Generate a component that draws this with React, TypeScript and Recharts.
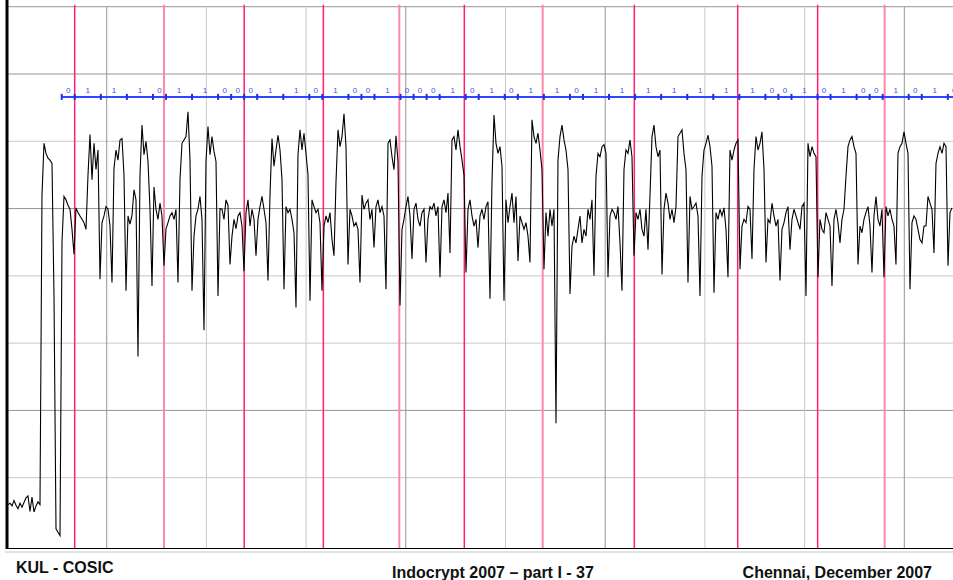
import React from "react";
import { ComposedChart, Line, Scatter, XAxis, YAxis, ReferenceLine } from "recharts";

// power trace (one sample every ~2 time units)
const traceValues: number[] = [
  6.0, 6.2, 5.8, 6.6, 5.9, 5.4, 6.2, 5.6, 6.3, 7.0, 7.3, 5.0, 7.1, 4.9, 5.8, 6.4, 6.0, 52, 59.7, 58.2,
  57.5, 57.2, 56.7, 37, 2.4, 1.9, 1.4, 45, 51.8, 51.3, 50.5, 49.9, 46.9, 43.2, 50.1, 49.4, 48.9, 48.4, 47.9, 46.9,
  55, 61, 54.3, 59.7, 55.8, 58.7, 39.5, 47.9, 48.9, 50.3, 49.9, 47.4, 39.0, 56, 58.7, 57.2, 60.2, 60.4, 55, 37.8,
  48.9, 47.7, 49, 52.8, 51.3, 28, 55, 62.4, 58, 60, 57, 49.9, 38.5, 53.2, 49.9, 48.4, 50.8, 48.9, 41.5, 47,
  47.9, 48.9, 49.4, 48.4, 49.9, 39.0, 54.3, 59.7, 60.2, 60.7, 64.4, 57.2, 37.8, 45.9, 48.9, 49.9, 51.8, 48.4, 31.9, 57,
  62.2, 58, 60.7, 58.5, 57, 37, 50, 49.9, 48.4, 51.3, 50.5, 41.7, 45.9, 48.4, 47, 48.9, 49.4, 47.4, 40.7, 49.4,
  51.3, 47.4, 49.9, 48.4, 43.0, 48.4, 50.3, 51.8, 49.9, 47.9, 39.3, 52, 60.4, 56.3, 58.7, 60.9, 58.7, 54.3, 38, 50.3,
  49.4, 49.9, 48.4, 46.4, 35.3, 58, 61.7, 58.7, 61.2, 58.2, 55, 36.3, 51.3, 50.3, 49.4, 49.9, 47.9, 37.8, 47.4, 48.9,
  47.9, 49.4, 45.4, 43.0, 54, 61.7, 59.2, 60.7, 64.1, 59.2, 41.7, 49.9, 48.9, 47.4, 47.9, 46.9, 39.0, 52, 49.9, 50.8,
  51.3, 48.4, 49.9, 44.2, 50.3, 51.3, 49.4, 50.3, 48.9, 38.0, 59.7, 60.2, 57.7, 55.8, 60.8, 57, 35.6, 46.9, 48.4, 50.3,
  51.8, 48.9, 42.5, 49.9, 50.8, 48.4, 47.4, 49.4, 49.9, 42.0, 48.4, 50.3, 49.9, 50.8, 48.9, 50.3, 39.8, 50.3, 51.3, 49.4,
  52.3, 43.4, 60.2, 60.7, 58.7, 61.7, 59.2, 57.2, 55, 40.5, 49.9, 51.3, 48.9, 47.4, 48.4, 44.2, 48.9, 49.9, 48.4, 50.3,
  51, 36.6, 54, 63.9, 59.7, 58.2, 59.2, 56.3, 36.3, 51.3, 47.9, 50.3, 52.3, 47.9, 51.8, 42.2, 48.9, 47.9, 46.9, 47.9,
  45.9, 42, 63.2, 60.7, 59.7, 61.2, 58.7, 55.8, 41.0, 49.4, 45.9, 49.9, 47.4, 49.9, 18.1, 57.2, 60.7, 62.4, 60.2, 58.7,
  55.8, 37.3, 44.4, 45.9, 44.9, 46.9, 48.9, 44.9, 46.9, 45.9, 49.9, 48.4, 51.3, 40.0, 54.8, 58.2, 57.7, 59.2, 59.5, 58.2,
  39.8, 48.9, 49.9, 49.4, 48.4, 50.3, 44.9, 37.8, 55.8, 58.7, 58.2, 60.2, 57.7, 43, 49.4, 48.4, 49.9, 46.9, 45.9, 49.9,
  43.9, 52, 60.7, 62.4, 59.2, 57.7, 58.7, 40.2, 49.9, 52.3, 50.8, 48.4, 49.9, 47.9, 50.3, 60.7, 61.2, 61.7, 58.2, 55.8,
  39.0, 51.8, 49.9, 50.3, 50.8, 48.9, 37.0, 54.8, 58.7, 59.7, 60.9, 59.2, 56.3, 37.5, 49.4, 48.4, 49.9, 48.9, 50.1, 46.9,
  39.8, 58.7, 57.2, 58.7, 59.7, 60.2, 41.0, 47.4, 48.4, 47.9, 50.3, 49.9, 42.5, 55.8, 60.7, 58.7, 59.7, 61.4, 55.8, 42.0,
  48.4, 47.9, 50.8, 48.9, 47.4, 48.4, 39.3, 46.9, 47.9, 49.4, 50.3, 43.9, 48.4, 49.9, 48.9, 47.9, 46.9, 50.3, 50.8, 37.0,
  59.7, 57.7, 59.2, 58.2, 57.7, 39.8, 48.4, 46.9, 46.4, 49.4, 48.4, 47.4, 38.5, 48.4, 49.9, 47.9, 44.9, 48.4, 49.9, 54.8,
  59.2, 60.2, 60.7, 59.2, 58.2, 41.7, 47.4, 46.4, 48.4, 49.4, 50.3, 47.4, 40.5, 48.9, 51.8, 48.4, 47.4, 49.9, 39.8, 50.3,
  48.9, 49.9, 48.4, 47.4, 41.7, 58.2, 59.2, 59.7, 61.4, 59.7, 58.2, 38.0, 47.9, 48.9, 48.4, 46.9, 45.4, 44.9, 47.4, 47.4,
  51.8, 50.8, 49.9, 43.4, 56.7, 58.2, 59.2, 58.2, 59.7, 59.2, 41.5, 49.4, 50.1,
];

// exponent bits written above the trace (a 1 costs square + multiply, a 0 only a square)
const bits = [
  0, 1, 1, 1, 0, 1, 1, 0, 0, 0, 1, 1, 0, 1, 0, 0, 1, 0, 0, 0, 1, 0, 1,
  0, 1, 1, 0, 1, 1, 1, 1, 1, 1, 1, 0, 0, 1, 0, 1, 0, 0, 1, 0, 1, 0,
];

// pink trigger markers
const markerTimes = [67.9, 157.5, 237.9, 317.3, 393.5, 458.7, 537.3, 629.2, 732.9, 813.1, 880.3];
const markerFaint = [false, true, false, false, true, false, true, false, false, false, true];

const hGrid = [10, 20, 30, 40, 50, 60, 70, 80];
const hGridDark = [20, 50, 70, 80];
const vGrid = [100, 200, 300, 400, 500, 600, 700, 800, 900];
const vGridDark = [100, 400, 600, 900];

const T_START = 1.0;
const T_STEP = 2.006;
const BITS_START = 54.9;
const SLOT = 13.07;
const BIT_LEVEL = 66.6;
const LABEL_LEVEL = 67.6;
const Y_MIN = -0.6;

const trace = traceValues.map((v, i) => ({ t: T_START + i * T_STEP, v }));

const bitEdges: { t: number; v: number }[] = [];
const bitLabels: { t: number; v: number; bit: number }[] = [];
let cursor = BITS_START;
bitEdges.push({ t: cursor, v: BIT_LEVEL });
bits.forEach((b) => {
  const len = b ? 2 * SLOT : SLOT;
  bitLabels.push({ t: cursor + len / 2, v: LABEL_LEVEL, bit: b });
  cursor += len;
  bitEdges.push({ t: cursor, v: BIT_LEVEL });
});

function BitTick(props: any) {
  const { cx, cy, index } = props;
  if (cx == null || cy == null) return null;
  return <rect key={index} x={cx - 1} y={cy - 3} width={2} height={6} fill="#1f2fe8" />;
}

function BitLabel(props: any) {
  const { cx, cy, payload } = props;
  if (cx == null) return null;
  return (
    <text
      x={cx}
      y={cy}
      textAnchor="middle"
      dominantBaseline="central"
      fontSize={8}
      fontFamily="Arial, 'Liberation Sans', sans-serif"
      fill="#4050ee"
    >
      {payload.bit}
    </text>
  );
}

export default function App() {
  const footer = {
    fontFamily: "Arial, 'Liberation Sans', sans-serif",
    fontWeight: 700,
    fontSize: 16,
    fill: "#111",
  } as const;

  return (
    <div
      style={{
        position: "absolute",
        left: 0,
        top: 0,
        width: 953,
        height: 580,
        overflow: "hidden",
        background: "#fff",
      }}
    >
      <ComposedChart width={1004} height={549} margin={{ top: 0, right: 0, bottom: 0, left: 7 }}>
        <XAxis type="number" dataKey="t" domain={[0, 1000]} allowDataOverflow hide />
        <YAxis type="number" dataKey="v" domain={[Y_MIN, 81]} allowDataOverflow hide />

        {hGrid.map((g) => (
          <ReferenceLine
            key={"h" + g}
            y={g}
            stroke={hGridDark.includes(g) ? "#959595" : "#c9c9c9"}
            strokeWidth={1}
          />
        ))}
        {vGrid.map((g) => (
          <ReferenceLine
            key={"v" + g}
            segment={[
              { x: g, y: Y_MIN },
              { x: g, y: 80 },
            ]}
            stroke={vGridDark.includes(g) ? "#959595" : "#c9c9c9"}
            strokeWidth={1}
          />
        ))}
        {markerTimes.map((m, i) => (
          <ReferenceLine
            key={"m" + m}
            segment={[
              { x: m, y: Y_MIN },
              { x: m, y: 80.3 },
            ]}
            stroke={markerFaint[i] ? "#ff86ab" : "#ff1f76"}
            strokeWidth={markerFaint[i] ? 2 : 1.5}
          />
        ))}

        <Line
          data={trace}
          dataKey="v"
          type="linear"
          stroke="#000"
          strokeWidth={1.1}
          dot={false}
          activeDot={false}
          isAnimationActive={false}
        />
        <Line
          data={bitEdges}
          dataKey="v"
          type="linear"
          stroke="#3344ff"
          strokeWidth={2}
          dot={(p: any) => <BitTick key={"d" + p.index} {...p} />}
          activeDot={false}
          isAnimationActive={false}
        />
        <Scatter data={bitLabels} dataKey="v" shape={(p: any) => <BitLabel {...p} />} isAnimationActive={false} />

        <ReferenceLine x={0} stroke="#000" strokeWidth={3} />
        <ReferenceLine y={Y_MIN} stroke="#000" strokeWidth={2} />
      </ComposedChart>

      <svg width={953} height={580} style={{ position: "absolute", left: 0, top: 0, pointerEvents: "none" }}>
        <line x1={5} x2={953} y1={552} y2={552} stroke="#c4c4c4" strokeWidth={1} />
        <text x={16} y={573} {...footer}>
          KUL - COSIC
        </text>
        <text x={392} y={578} {...footer}>
          Indocrypt 2007 – part I - 37
        </text>
        <text x={932} y={578} textAnchor="end" {...footer}>
          Chennai, December 2007
        </text>
      </svg>
    </div>
  );
}
